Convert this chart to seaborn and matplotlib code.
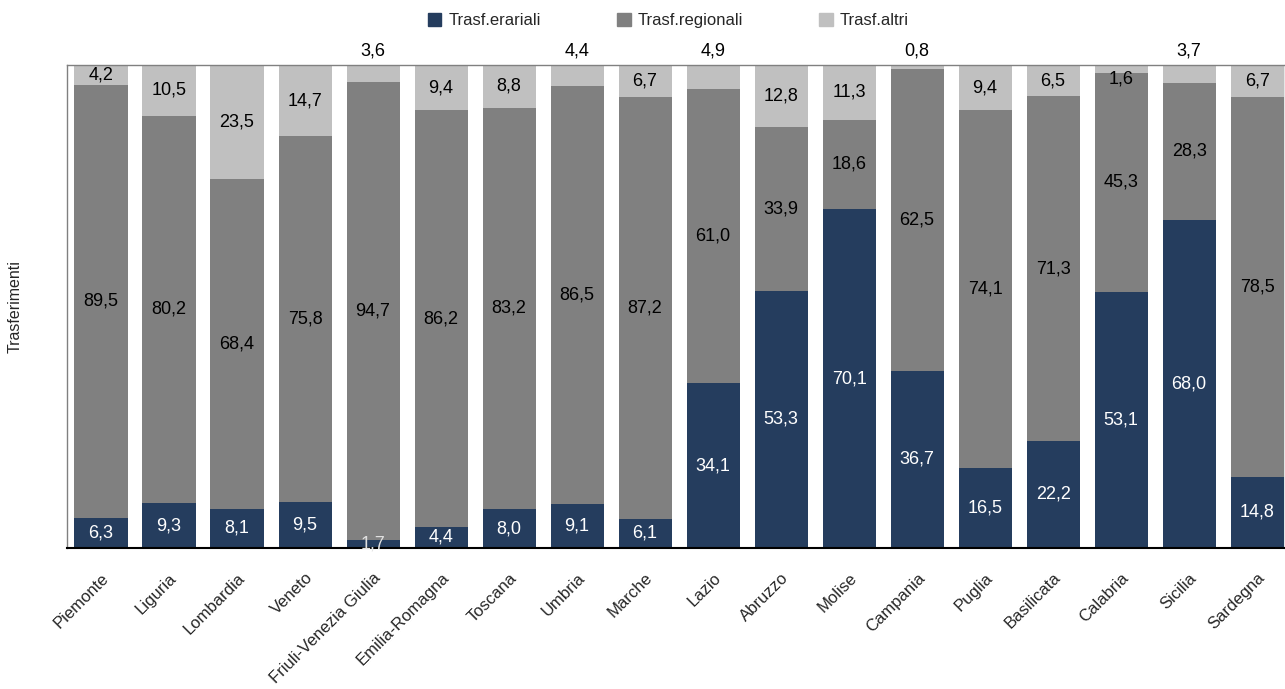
import matplotlib
matplotlib.use("Agg")
import matplotlib.pyplot as plt
import seaborn as sns
import numpy as np
from matplotlib.patches import Patch
from matplotlib import font_manager as fm

regions = ["Piemonte", "Liguria", "Lombardia", "Veneto", "Friuli-Venezia Giulia",
           "Emilia-Romagna", "Toscana", "Umbria", "Marche", "Lazio", "Abruzzo",
           "Molise", "Campania", "Puglia", "Basilicata", "Calabria", "Sicilia", "Sardegna"]
erariali = [6.3, 9.3, 8.1, 9.5, 1.7, 4.4, 8.0, 9.1, 6.1, 34.1, 53.3, 70.1, 36.7, 16.5, 22.2, 53.1, 68.0, 14.8]
regionali = [89.5, 80.2, 68.4, 75.8, 94.7, 86.2, 83.2, 86.5, 87.2, 61.0, 33.9, 18.6, 62.5, 74.1, 71.3, 45.3, 28.3, 78.5]
altri = [4.2, 10.5, 23.5, 14.7, 3.6, 9.4, 8.8, 4.4, 6.7, 4.9, 12.8, 11.3, 0.8, 9.4, 6.5, 1.6, 3.7, 6.7]
series_names = ["Trasf.erariali", "Trasf.regionali", "Trasf.altri"]
# labels of the top segment drawn above the bar
above_top = ["Friuli-Venezia Giulia", "Umbria", "Lazio", "Campania", "Sicilia"]

sns.set_theme(style="white")
avail = {f.name for f in fm.fontManager.ttflist}
fam = "Liberation Sans Narrow" if "Liberation Sans Narrow" in avail else "Liberation Sans"
plt.rcParams["font.family"] = [fam, "DejaVu Sans"]

c_dark, c_mid, c_light = "#253D5E", "#808080", "#C0C0C0"

fig = plt.figure(figsize=(12.85, 6.89), dpi=100)
ax = fig.add_axes([67/1285, 1-548/689, 1-67/1285, (548-65)/689])

e = np.array(erariali); r = np.array(regionali); a = np.array(altri)
tot = e + r + a
ep = e / tot * 100; rp = r / tot * 100; ap = a / tot * 100

kw = dict(width=0.78, ax=ax, saturation=1, linewidth=0, edgecolor="none")
sns.barplot(x=regions, y=ep, color=c_dark, **kw)
sns.barplot(x=regions, y=rp, bottom=ep, color=c_mid, **kw)
sns.barplot(x=regions, y=ap, bottom=ep + rp, color=c_light, **kw)

fmt = lambda v: f"{v:.1f}".replace(".", ",")
fs = 13
for i, reg in enumerate(regions):
    ax.text(i, ep[i] / 2, fmt(erariali[i]), ha="center", va="center",
            color="white" if ep[i] > 3 else "#E0E0E0", fontsize=fs)
    ax.text(i, ep[i] + rp[i] / 2, fmt(regionali[i]), ha="center", va="center", color="black", fontsize=fs)
    if reg in above_top:
        ax.text(i, 103.0, fmt(altri[i]), ha="center", va="center", color="black", fontsize=fs, clip_on=False)
    else:
        y = 100 - ap[i] / 2 if ap[i] >= 3 else 97.0
        ax.text(i, y, fmt(altri[i]), ha="center", va="center", color="black", fontsize=fs)

ax.set_ylim(0, 100)
ax.set_xlim(-0.5, 17.41)
ax.set_yticks([])
ax.set_xlabel("")
ax.set_ylabel("Trasferimenti", fontsize=11.5, labelpad=32)
ax.tick_params(axis="x", length=0, pad=16)
plt.setp(ax.get_xticklabels(), rotation=45, ha="right", rotation_mode="anchor", fontsize=12)
for s in ["top", "left", "right"]:
    ax.spines[s].set_color("#808080")
    ax.spines[s].set_linewidth(1)
ax.spines["bottom"].set_color("black")
ax.spines["bottom"].set_linewidth(1.5)

handles = [Patch(color=c) for c in (c_dark, c_mid, c_light)]
fig.legend(handles, series_names, loc="center", bbox_to_anchor=(0.52, 0.97), ncol=3,
           frameon=False, fontsize=12, handlelength=0.8, handleheight=0.8,
           handletextpad=0.4, columnspacing=4.6)

fig.savefig("out.png", dpi=100)
